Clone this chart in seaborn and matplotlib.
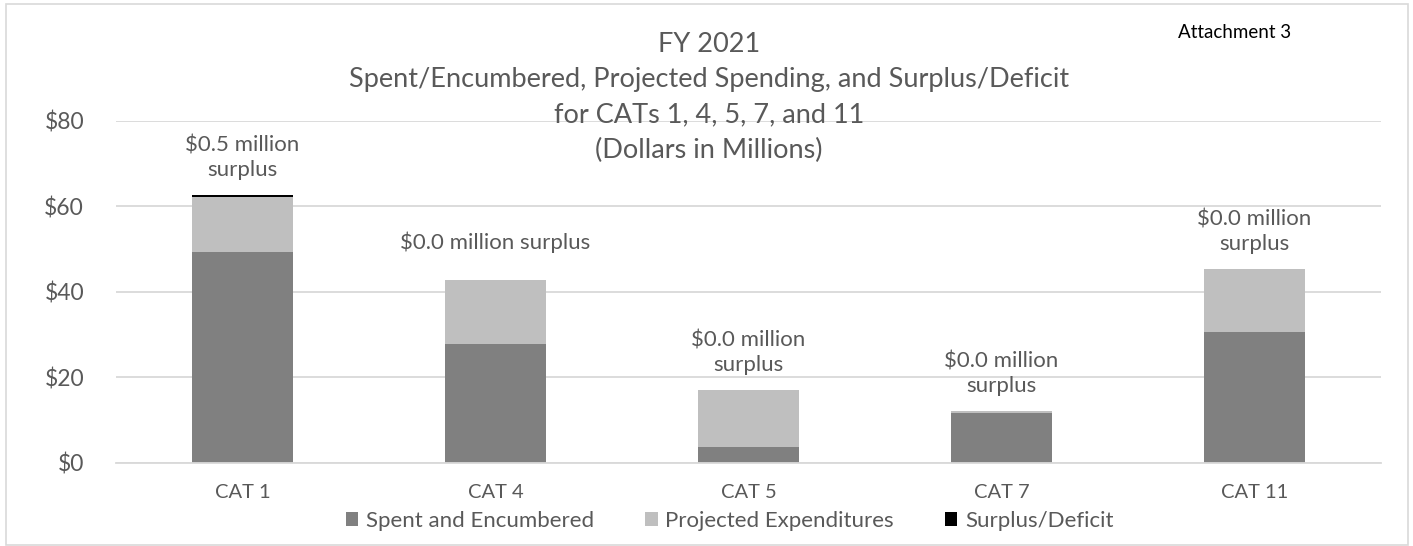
import matplotlib
matplotlib.use("Agg")
import matplotlib.pyplot as plt
import numpy as np
import pandas as pd
import seaborn as sns
from matplotlib.patches import Patch, Rectangle

# FY 2021 budget status by category (dollars in millions)
categories = ["CAT 1", "CAT 4", "CAT 5", "CAT 7", "CAT 11"]
spent_encumbered = [49.4, 27.8, 3.6, 11.6, 30.6]
projected_expenditures = [12.8, 15.0, 13.5, 0.6, 14.7]
surplus_deficit = [0.5, 0.0, 0.0, 0.0, 0.0]
label_wrapped = [True, False, True, True, True]
y_ticks = [0, 20, 40, 60, 80]

series_names = ["Spent and Encumbered", "Projected Expenditures", "Surplus/Deficit"]
series_colors = ["#808080", "#bfbfbf", "#000000"]

sns.set_style("white")
plt.rcParams["font.family"] = ["Lato", "DejaVu Sans"]
TEXT = "#595959"
GRID = "#d9d9d9"

fig = plt.figure(figsize=(14.13, 5.46), dpi=100)
ax = fig.add_axes([0.0821, 0.1526, 0.8952, 0.6263])

df = pd.DataFrame({
    "category": categories,
    "spent": spent_encumbered,
    "projected": projected_expenditures,
    "surplus": surplus_deficit,
})
df["base_projected"] = df["spent"]
df["base_surplus"] = df["spent"] + df["projected"]

layers = [("spent", None), ("projected", "base_projected"), ("surplus", "base_surplus")]
for (col, base), color in zip(layers, series_colors):
    kw = {} if base is None else {"bottom": df[base].to_numpy()}
    sns.barplot(data=df, x="category", y=col, color=color, width=0.4,
                saturation=1, errorbar=None, linewidth=0, ax=ax, **kw)

# surplus labels above each stack
tops = df["spent"] + df["projected"] + df["surplus"]
for i, (val, top, wrap) in enumerate(zip(df["surplus"], tops, label_wrapped)):
    sep = "\n" if wrap else " "
    kind = "surplus" if val >= 0 else "deficit"
    ax.annotate(f"${abs(val):.1f} million{sep}{kind}", xy=(i, top),
                xytext=(0, 37), textcoords="offset pixels",
                ha="center", va="center", multialignment="center",
                fontsize=16, color=TEXT, linespacing=1.28)

ax.set_xlim(-0.5, len(categories) - 0.5)
ax.set_ylim(0, 80)
ax.set_yticks(y_ticks)
ax.set_yticklabels([f"${v}" for v in y_ticks])
ax.set_xlabel("")
ax.set_ylabel("")
ax.yaxis.grid(True, color=GRID, linewidth=1.3)
ax.set_axisbelow(True)
for side in ["left", "right", "top"]:
    ax.spines[side].set_visible(False)
ax.spines["bottom"].set_color(GRID)
ax.spines["bottom"].set_linewidth(1.3)
ax.tick_params(axis="y", length=0, pad=23, labelsize=16.5, labelcolor=TEXT)
ax.tick_params(axis="x", length=0, pad=15, labelsize=14.5, labelcolor=TEXT)

fig.text(0.5018, 0.8214,
         "FY 2021\nSpent/Encumbered, Projected Spending, and Surplus/Deficit\n"
         "for CATs 1, 4, 5, 7, and 11\n(Dollars in Millions)",
         ha="center", va="center", multialignment="center",
         fontsize=19.5, color=TEXT, linespacing=1.5)
fig.text(0.8737, 0.9396, "Attachment 3", ha="center", va="center",
         fontsize=13.5, color="black")

handles = [Patch(facecolor=c, edgecolor="none") for c in series_colors]
fig.legend(handles, series_names, loc="center", bbox_to_anchor=(0.5166, 0.0458),
           ncol=3, frameon=False, handlelength=0.55, handleheight=0.55,
           handletextpad=0.35, columnspacing=2.3, fontsize=16, labelcolor=TEXT)

fig.patches.append(Rectangle((0.0039, 0.0018), 0.9926, 0.9908, transform=fig.transFigure,
                             fill=False, edgecolor=GRID, linewidth=1.2))

fig.savefig("out.png", dpi=100, facecolor="white")
